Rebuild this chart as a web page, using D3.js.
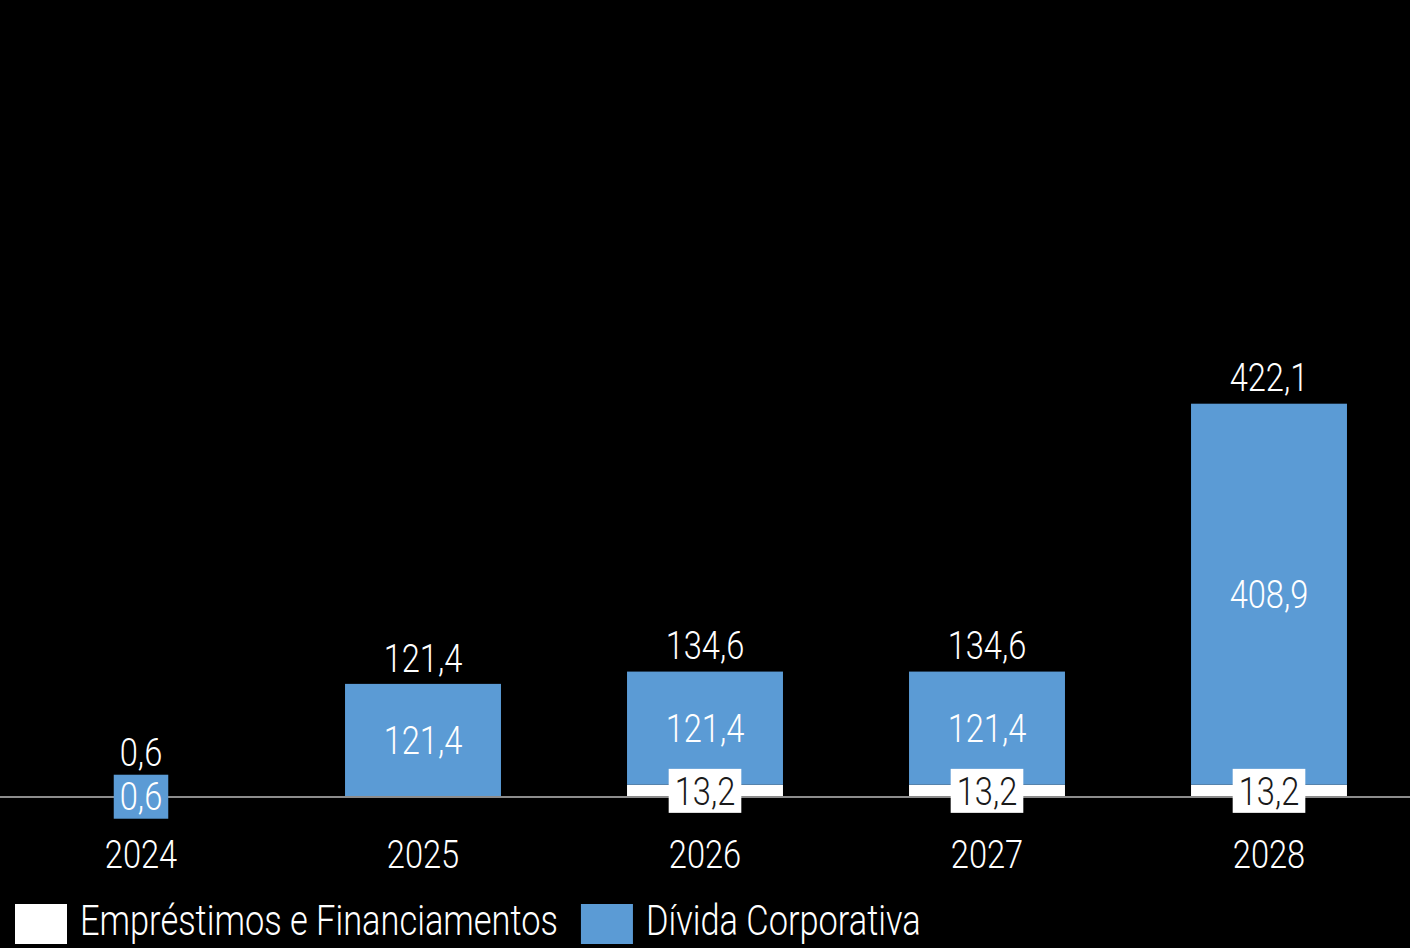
<!DOCTYPE html>
<html>
<head>
<meta charset="utf-8">
<script src="https://cdn.jsdelivr.net/npm/d3@7/dist/d3.min.js"></script>
<style>
  html, body { margin: 0; padding: 0; background: #000; }
  svg { display: block; }
  text { font-family: Roboto, "Open Sans", sans-serif; font-weight: 300; }
</style>
</head>
<body>
<svg id="chart" width="1410" height="948"></svg>
<script>
// Debt maturity schedule (R$ millions)
const years = ["2024", "2025", "2026", "2027", "2028"];
const emprestimos = [0, 0, 13.2, 13.2, 13.2];                 // Empréstimos e Financiamentos
const dividaCorporativa = [0.6, 121.4, 121.4, 121.4, 408.9];  // Dívida Corporativa
const totals = [0.6, 121.4, 134.6, 134.6, 422.1];
const seriesNames = ["Empréstimos e Financiamentos", "Dívida Corporativa"];
const seriesColors = ["#ffffff", "#5b9bd5"];
const labelColors = ["#1a1a1a", "#ffffff"];

const W = 1410, H = 948;
const baseY = 797;
const condense = 0.86;      // narrow the light face horizontally
const legendCondense = 0.80;
const fmt = v => v.toFixed(1).replace(".", ",");

const svg = d3.select("#chart");
svg.append("rect").attr("width", W).attr("height", H).attr("fill", "#000");

const x = d3.scaleBand().domain(years).range([0, W]).paddingInner(0.447).paddingOuter(0.2235);
const y = d3.scaleLinear().domain([0, 850]).range([baseY, 5]);

const rows = years.map((yr, i) => ({ year: yr, emp: emprestimos[i], div: dividaCorporativa[i], total: totals[i] }));
const stack = d3.stack().keys(["emp", "div"])(rows);

// condensed text helper
function label(g, cx, cy, str, size, color, anchor, sx) {
  return g.append("g").attr("transform", `translate(${cx},${cy}) scale(${sx || condense},1)`)
    .append("text")
    .attr("text-anchor", anchor || "middle")
    .attr("dy", "0.36em")
    .attr("font-size", size)
    .attr("fill", color)
    .text(str);
}

// bars
const layers = svg.append("g");
stack.forEach((layer, si) => {
  layers.append("g").attr("fill", seriesColors[si])
    .selectAll("rect").data(layer).join("rect")
    .attr("x", d => x(d.data.year))
    .attr("width", x.bandwidth())
    .attr("y", d => y(d[1]))
    .attr("height", d => y(d[0]) - y(d[1]));
});

// baseline
svg.append("line").attr("x1", 0).attr("x2", W).attr("y1", baseY).attr("y2", baseY)
  .attr("stroke", "#8c8c8c").attr("stroke-width", 2);

// segment labels; segments too thin for their text get a boxed label
const boxTop = {};
const segLabels = svg.append("g");
stack.forEach((layer, si) => {
  layer.forEach(d => {
    const v = d[1] - d[0];
    if (v <= 0) return;
    const cx = x(d.data.year) + x.bandwidth() / 2;
    const cy = (y(d[0]) + y(d[1])) / 2;
    const segH = y(d[0]) - y(d[1]);
    const g = segLabels.append("g");
    const t = label(g, cx, cy, fmt(v), 38, labelColors[si]);
    if (segH < 40) {
      const w = t.node().getComputedTextLength() * condense + 12;
      g.insert("rect", ":first-child")
        .attr("x", cx - w / 2).attr("y", cy - 22)
        .attr("width", w).attr("height", 44)
        .attr("fill", seriesColors[si]);
      boxTop[d.data.year] = Math.min(boxTop[d.data.year] ?? Infinity, cy - 22);
    }
  });
});

// totals above bars (and above any boxed label)
const totG = svg.append("g");
rows.forEach(r => {
  let ty = y(r.total) - 26;
  if (boxTop[r.year] !== undefined) ty = Math.min(ty, boxTop[r.year] - 22);
  label(totG, x(r.year) + x.bandwidth() / 2, ty, fmt(r.total), 38, "#ffffff");
});

// x axis labels
const axisG = svg.append("g");
years.forEach(yr => {
  label(axisG, x(yr) + x.bandwidth() / 2, 854, yr, 38, "#ffffff");
});

// legend
const leg = svg.append("g");
let lx = 15;
seriesNames.forEach((name, i) => {
  leg.append("rect").attr("x", lx).attr("y", 904).attr("width", 52).attr("height", 40)
    .attr("fill", seriesColors[i]);
  const t = label(leg, lx + 65, 920, name, 43, "#ffffff", "start", legendCondense);
  lx += 65 + t.node().getComputedTextLength() * legendCondense + 23;
});
</script>
</body>
</html>
